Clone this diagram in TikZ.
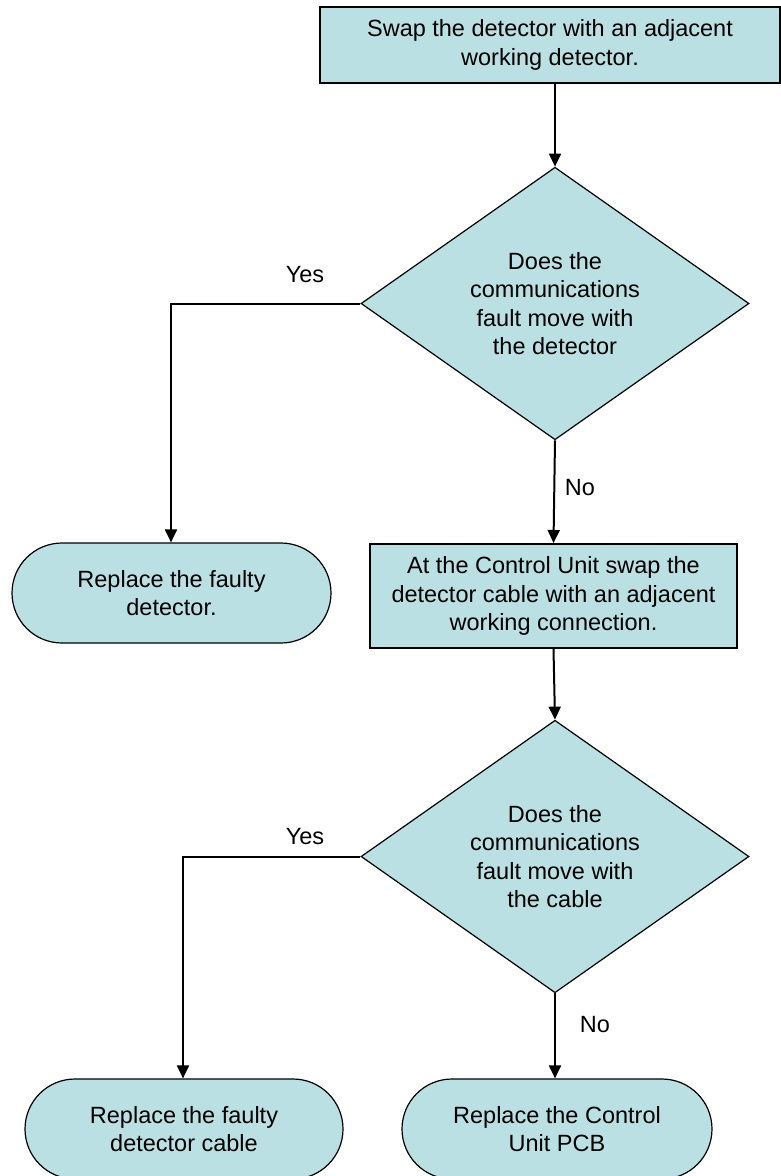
\documentclass[tikz,border=0pt]{standalone}
\usepackage{fontspec}
\setmainfont{Liberation Sans}
\usetikzlibrary{shapes.geometric,shapes.misc,arrows.meta}
\definecolor{boxfill}{RGB}{187,224,227}
\begin{document}
\begin{tikzpicture}[x=1pt,y=-1pt,
  every node/.style={font=\fontsize{23.5}{28.5}\selectfont, align=center},
  procbox/.style={draw=black, line width=2pt, fill=boxfill, rectangle, inner sep=0pt},
  decbox/.style={draw=black, line width=1.2pt, fill=boxfill, diamond, inner sep=0pt,
     minimum width=388pt, minimum height=267pt},
  termbox/.style={draw=black, line width=1.2pt, fill=boxfill, rounded rectangle,
     rounded rectangle arc length=180, inner sep=0pt, minimum height=100pt},
  conn/.style={line width=2pt, -{Triangle[length=13pt,width=12pt]}},
  lbl/.style={inner sep=0pt}]
\clip (0,0) rectangle (781,1176);
\useasboundingbox (0,0) rectangle (781,1176);

\node[procbox, minimum width=460pt, minimum height=76pt] (r1) at (550,45)
  {Swap the detector with an adjacent\\working detector.};
\node[decbox] (d1) at (555,303.5)
  {Does the\\communications\\fault move with\\the detector};
\node[termbox, minimum width=319pt] (t1) at (171.5,593)
  {Replace the faulty\\detector.};
\node[procbox, minimum width=367pt, minimum height=104pt] (r2) at (553.5,596)
  {At the Control Unit swap the\\detector cable with an adjacent\\working connection.};
\node[decbox] (d2) at (555,856.5)
  {Does the\\communications\\fault move with\\the cable};
\node[termbox, minimum width=318pt] (t2) at (184,1129)
  {Replace the faulty\\detector cable};
\node[termbox, minimum width=310pt] (t3) at (557,1129)
  {Replace the Control\\Unit PCB};

\node[lbl] (yes1) at (305,275) {Yes};
\node[lbl] (no1) at (580,488) {No};
\node[lbl] (yes2) at (305,837) {Yes};
\node[lbl] (no2) at (595,1025) {No};

\coordinate (c1) at (171,303.5);
\coordinate (c2) at (183,856.5);

\draw[conn] (r1.south -| d1.north) -- (d1.north);
\draw[conn] (d1.west) -- (c1) -- (t1.north -| c1);
\draw[conn] (d1.south) -- (r2.north);
\draw[conn] (r2.south) -- (d2.north);
\draw[conn] (d2.west) -- (c2) -- (t2.north -| c2);
\draw[conn] (d2.south) -- (d2.south |- t3.north);
\end{tikzpicture}
\end{document}
